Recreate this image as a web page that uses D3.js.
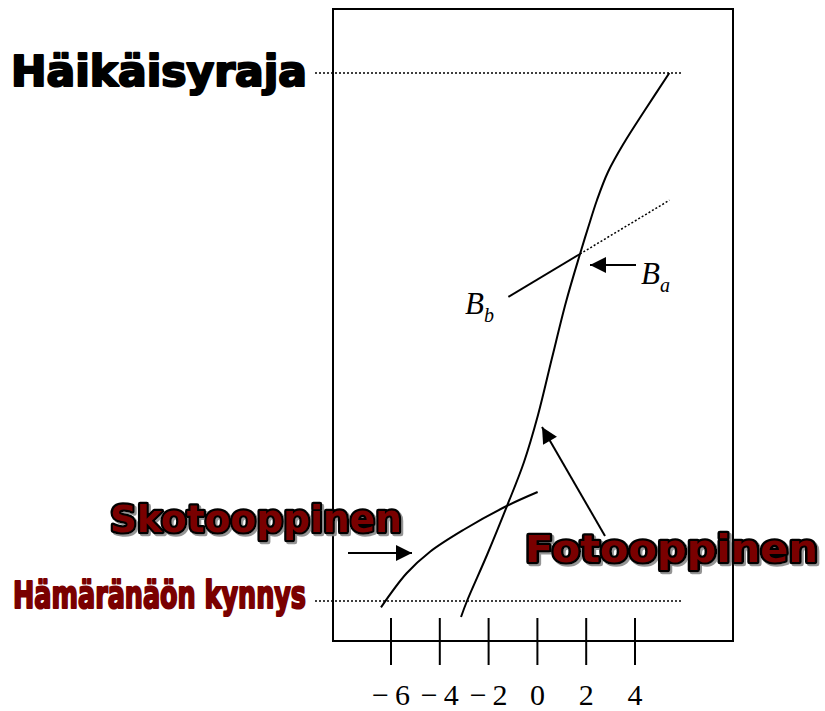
<!DOCTYPE html>
<html>
<head>
<meta charset="utf-8">
<script src="https://cdn.jsdelivr.net/npm/d3@7"></script>
<style>
  html, body { margin: 0; padding: 0; background: #fff; }
  svg { display: block; }
</style>
</head>
<body>
<script>
// Horizontal axis: log luminance
const tickValues = [-6, -4, -2, 0, 2, 4];
// Vertical levels: 0 = dark-vision threshold, 100 = glare limit
const levelValues = [0, 100];
const levelNames = ["Hämäränäön kynnys", "Häikäisyraja"];

// Photopic (cone) response curve
const photopicX = [-3.13, -2.885, -2.066, -1.246, -0.549, 0.025, 0.598, 1.172, 1.746, 2.074, 2.443, 2.893, 3.549, 4.41, 5.406];
const photopicY = [-3.03, 0.0, 8.71, 17.99, 26.33, 35.23, 46.02, 56.63, 65.72, 70.64, 75.95, 81.25, 86.74, 92.99, 100.0];

// Scotopic (rod) response curve
const scotopicX = [-6.41, -5.36, -4.40, -3.04, -1.26, 0.01];
const scotopicY = [-1.2, 5.25, 9.34, 13.45, 17.99, 20.64];

// Tangent line B_b (solid up to the crossing B_a, dotted beyond)
const bLineX = [-1.19, 1.746, 5.41];
const bLineY = [57.6, 65.72, 75.9];

const W = 825, H = 711;
const svg = d3.select("body").append("svg").attr("width", W).attr("height", H);

const x = d3.scaleLinear().domain([-6, 4]).range([391, 635]);
const y = d3.scaleLinear().domain([0, 100]).range([601, 73]);

const defs = svg.append("defs");
defs.append("marker")
  .attr("id", "head")
  .attr("viewBox", "0 0 10 10")
  .attr("refX", 10).attr("refY", 5)
  .attr("markerWidth", 8.5).attr("markerHeight", 8)
  .attr("markerUnits", "strokeWidth")
  .attr("orient", "auto")
  .append("path").attr("d", "M0,0 L10,5 L0,10 Z").attr("fill", "#000");

// Soft grey drop shadow for the outlined labels
defs.append("filter")
  .attr("id", "shadow")
  .attr("x", "-5%").attr("y", "-20%").attr("width", "115%").attr("height", "150%")
  .append("feDropShadow")
  .attr("dx", 2).attr("dy", 2).attr("stdDeviation", 0.6)
  .attr("flood-color", "#888").attr("flood-opacity", 0.9);

// Frame
svg.append("rect")
  .attr("x", 333).attr("y", 9).attr("width", 400).attr("height", 632)
  .attr("fill", "none").attr("stroke", "#000").attr("stroke-width", 2);

// Dotted level lines
svg.selectAll("line.level").data(levelValues).join("line")
  .attr("class", "level")
  .attr("x1", 315).attr("x2", 682)
  .attr("y1", d => y(d)).attr("y2", d => y(d))
  .attr("stroke", "#000").attr("stroke-width", 1.5)
  .attr("stroke-dasharray", "2,2");

// Ticks and tick labels
svg.selectAll("line.tick").data(tickValues).join("line")
  .attr("class", "tick")
  .attr("x1", d => x(d)).attr("x2", d => x(d))
  .attr("y1", 618).attr("y2", 665)
  .attr("stroke", "#000").attr("stroke-width", 2);

svg.selectAll("text.tick").data(tickValues).join("text")
  .attr("class", "tick")
  .attr("x", d => x(d)).attr("y", 705)
  .attr("text-anchor", "middle")
  .attr("font-family", "'Liberation Serif', 'Times New Roman', serif")
  .attr("font-size", 30)
  .text(d => d < 0 ? "\u2212\u2009" + Math.abs(d) : String(d));

// Curves
const line = d3.line().x(d => x(d[0])).y(d => y(d[1])).curve(d3.curveCatmullRom.alpha(0.5));
const photopic = photopicX.map((v, i) => [v, photopicY[i]]);
const scotopic = scotopicX.map((v, i) => [v, scotopicY[i]]);

svg.append("path").datum(photopic).attr("d", line)
  .attr("fill", "none").attr("stroke", "#000").attr("stroke-width", 2);
svg.append("path").datum(scotopic).attr("d", line)
  .attr("fill", "none").attr("stroke", "#000").attr("stroke-width", 2);

// B_b tangent: solid then dotted
svg.append("line")
  .attr("x1", x(bLineX[0])).attr("y1", y(bLineY[0]))
  .attr("x2", x(bLineX[1])).attr("y2", y(bLineY[1]))
  .attr("stroke", "#000").attr("stroke-width", 2);
svg.append("line")
  .attr("x1", x(bLineX[1])).attr("y1", y(bLineY[1]))
  .attr("x2", x(bLineX[2])).attr("y2", y(bLineY[2]))
  .attr("stroke", "#000").attr("stroke-width", 1.5)
  .attr("stroke-dasharray", "2,2");

// Pointer arrows
const arrows = [
  [636, 265, 590, 265],
  [348, 553, 412, 553],
  [605, 536, 542, 427]
];
svg.selectAll("line.arrow").data(arrows).join("line")
  .attr("class", "arrow")
  .attr("x1", d => d[0]).attr("y1", d => d[1])
  .attr("x2", d => d[2]).attr("y2", d => d[3])
  .attr("stroke", "#000").attr("stroke-width", 2)
  .attr("marker-end", "url(#head)");

// B labels (italic with subscript)
function bLabel(px, py, sub) {
  const t = svg.append("text")
    .attr("x", px).attr("y", py)
    .attr("font-family", "'Liberation Serif', 'Times New Roman', serif")
    .attr("font-style", "italic")
    .attr("font-size", 31);
  t.append("tspan").text("B");
  t.append("tspan").attr("dy", 8).attr("font-size", 20).text(sub);
}
bLabel(465, 314, "b");
bLabel(641, 284, "a");

// Heavy display labels
const heavy = "'DejaVu Sans', 'Liberation Sans', Arial, sans-serif";

function display(txt, px, py, size, len, fill, outlined) {
  const t = svg.append("text")
    .attr("x", px).attr("y", py)
    .attr("font-family", heavy).attr("font-weight", 900)
    .attr("font-size", size)
    .attr("textLength", len).attr("lengthAdjust", "spacingAndGlyphs")
    .attr("fill", fill)
    .attr("stroke-linejoin", "round")
    .text(txt);
  if (outlined) {
    t.attr("stroke", "#000").attr("stroke-width", 4.5)
      .attr("paint-order", "stroke")
      .attr("filter", "url(#shadow)");
  } else {
    t.attr("stroke", fill).attr("stroke-width", 2.2);
  }
}

display(levelNames[1], 11, 86, 42, 296, "#000", false);
display("Skotooppinen", 110, 532, 38, 292, "#7a0000", true);
display(levelNames[0], 13, 608, 37, 293, "#7a0000", false);
display("Fotooppinen", 525, 562, 37, 293, "#7a0000", true);
</script>
</body>
</html>
